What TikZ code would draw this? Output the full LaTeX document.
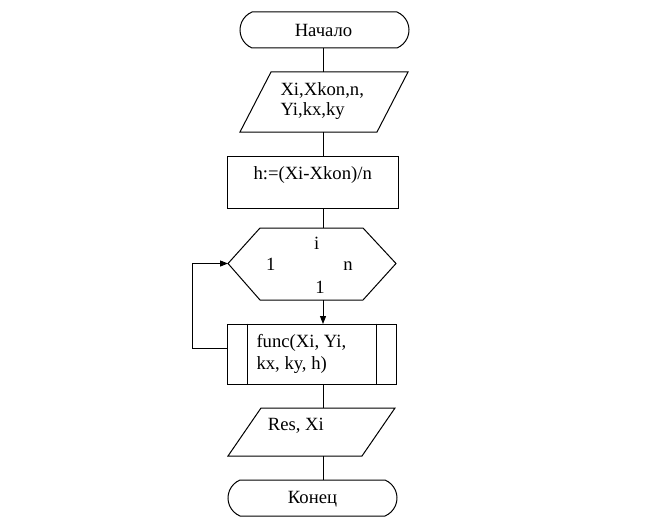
\documentclass[tikz,border=0pt]{standalone}
\usepackage{fontspec}
\setmainfont{Liberation Serif}
\usetikzlibrary{shapes.misc,arrows.meta}
\begin{document}
\begin{tikzpicture}[x=0.75pt,y=-0.75pt,line width=0.75pt,
  blk/.style={draw, inner sep=0pt},
  term/.style={blk, rounded rectangle, rounded rectangle arc length=135, minimum width=126.75pt, minimum height=27pt},
  txt/.style={font=\fontsize{14pt}{16pt}\selectfont, inner sep=0pt, anchor=base west},
  ctxt/.style={font=\fontsize{14pt}{16pt}\selectfont, inner sep=0pt, anchor=base},
  arr/.style={-{Triangle[length=6pt,width=4.5pt]}}]
\useasboundingbox (0,0) rectangle (660,528);
% start
\node[term] (start) at (324.5,30) {};
\node[ctxt] (startt) at (323.5,36.7) {Начало};
% input
\coordinate (inN) at (323,72);
\coordinate (inS) at (323,132);
\draw (271,72) -- (408,72) -- (377,132) -- (240,132) -- cycle;
\node[txt] (int1) at (280,95) {Xi,Xkon,n,};
\node[txt] (int2) at (280,115) {Yi,kx,ky};
% process
\node[blk, rectangle, minimum width=128.25pt, minimum height=39pt] (calc) at (312.5,182) {};
\node[txt] (calct) at (253,179) {h:=(Xi-Xkon)/n};
% loop hexagon
\coordinate (hexN) at (323,228);
\coordinate (hexS) at (323,300);
\coordinate (hexW) at (228,263.5);
\draw (228,263.5) -- (260,228) -- (363,228) -- (396,263.5) -- (363,300) -- (260,300) -- cycle;
\node[ctxt] (hi) at (316.7,249) {i};
\node[ctxt] (h1) at (270.7,270) {1};
\node[ctxt] (hn) at (348,270) {n};
\node[ctxt] (hs) at (320,293) {1};
% predefined process
\node[blk, rectangle, minimum width=126.75pt, minimum height=45pt] (func) at (311.5,354) {};
\draw ([xshift=15.75pt]func.north west) -- ([xshift=15.75pt]func.south west);
\draw ([xshift=-15pt]func.north east) -- ([xshift=-15pt]func.south east);
\node[txt] (funct1) at (256,347.7) {func(Xi, Yi,};
\node[txt] (funct2) at (256,369.5) {kx, ky, h)};
\coordinate (funcW) at (227,348);
% output
\coordinate (outN) at (323,408);
\coordinate (outS) at (323,456);
\draw (261,408) -- (395,408) -- (362,456) -- (228,456) -- cycle;
\node[txt] (outt) at (267.3,430.7) {Res, Xi};
% end
\node[term] (stop) at (312.5,498) {};
\node[ctxt] (stopt) at (312.5,503.5) {Конец};
% connectors
\draw (323,48) -- (inN);
\draw (inS) -- (323,156);
\draw (323,208) -- (hexN);
\draw[arr] (hexS) -- (323,324);
\draw (323,384) -- (outN);
\draw (outS) -- (323,480);
\draw[arr] (funcW) -- (192,348) -- (192,263.5) -- (hexW);
\end{tikzpicture}
\end{document}
